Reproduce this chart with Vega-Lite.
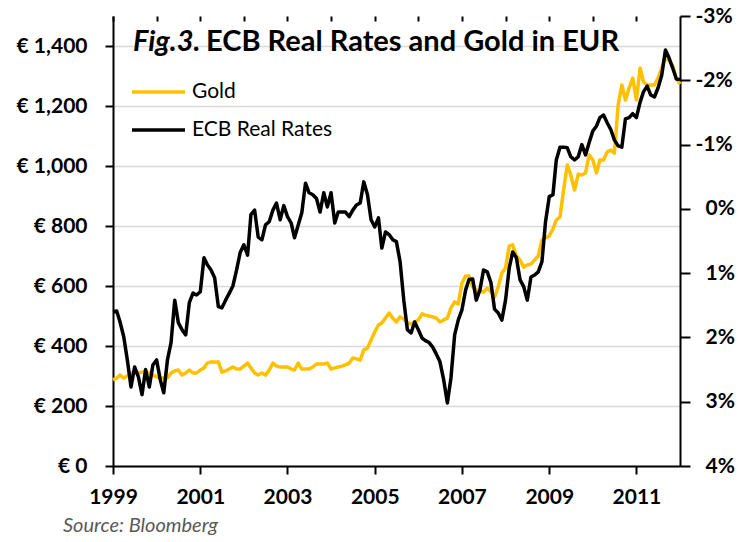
{
  "$schema": "https://vega.github.io/schema/vega-lite/v6.json",
  "width": 567,
  "height": 450,
  "autosize": "none",
  "padding": {"left": 113, "top": 16, "right": 64, "bottom": 76},
  "background": "white",
  "config": {"font": "Lato", "view": {"stroke": null}},
  "title": {"text": "Source: Bloomberg", "orient": "bottom", "anchor": "start", "frame": "group", "dx": -50, "offset": 9, "fontSize": 20, "fontStyle": "italic", "fontWeight": "normal", "color": "#595959", "font": "Lato"},
  "data": {"values": [
    {"date":"1999-01-01","gold":287,"ecb":1.60},{"date":"1999-02-01","gold":293,"ecb":1.59},{"date":"1999-03-01","gold":303,"ecb":1.76},{"date":"1999-04-01","gold":293,"ecb":1.99},{"date":"1999-05-01","gold":300,"ecb":2.35},{"date":"1999-06-01","gold":310,"ecb":2.77},{"date":"1999-07-01","gold":310,"ecb":2.46},{"date":"1999-08-01","gold":310,"ecb":2.61},{"date":"1999-09-01","gold":313,"ecb":2.89},{"date":"1999-10-01","gold":313,"ecb":2.50},{"date":"1999-11-01","gold":310,"ecb":2.77},{"date":"1999-12-01","gold":303,"ecb":2.43},
    {"date":"2000-01-01","gold":297,"ecb":2.35},{"date":"2000-02-01","gold":293,"ecb":2.66},{"date":"2000-03-01","gold":293,"ecb":2.86},{"date":"2000-04-01","gold":293,"ecb":2.35},{"date":"2000-05-01","gold":310,"ecb":2.08},{"date":"2000-06-01","gold":317,"ecb":1.42},{"date":"2000-07-01","gold":320,"ecb":1.77},{"date":"2000-08-01","gold":303,"ecb":1.88},{"date":"2000-09-01","gold":310,"ecb":1.96},{"date":"2000-10-01","gold":320,"ecb":1.46},{"date":"2000-11-01","gold":310,"ecb":1.31},{"date":"2000-12-01","gold":310,"ecb":1.34},
    {"date":"2001-01-01","gold":320,"ecb":1.29},{"date":"2001-02-01","gold":327,"ecb":0.76},{"date":"2001-03-01","gold":343,"ecb":0.87},{"date":"2001-04-01","gold":347,"ecb":0.95},{"date":"2001-05-01","gold":347,"ecb":1.07},{"date":"2001-06-01","gold":347,"ecb":1.52},{"date":"2001-07-01","gold":313,"ecb":1.54},{"date":"2001-08-01","gold":317,"ecb":1.42},{"date":"2001-09-01","gold":323,"ecb":1.31},{"date":"2001-10-01","gold":330,"ecb":1.20},{"date":"2001-11-01","gold":323,"ecb":0.95},{"date":"2001-12-01","gold":323,"ecb":0.68},
    {"date":"2002-01-01","gold":333,"ecb":0.56},{"date":"2002-02-01","gold":343,"ecb":0.72},{"date":"2002-03-01","gold":327,"ecb":0.09},{"date":"2002-04-01","gold":310,"ecb":0.02},{"date":"2002-05-01","gold":303,"ecb":0.44},{"date":"2002-06-01","gold":310,"ecb":0.48},{"date":"2002-07-01","gold":303,"ecb":0.25},{"date":"2002-08-01","gold":320,"ecb":0.20},{"date":"2002-09-01","gold":343,"ecb":0.02},{"date":"2002-10-01","gold":333,"ecb":-0.09},{"date":"2002-11-01","gold":330,"ecb":0.17},{"date":"2002-12-01","gold":330,"ecb":-0.05},
    {"date":"2003-01-01","gold":330,"ecb":0.12},{"date":"2003-02-01","gold":323,"ecb":0.22},{"date":"2003-03-01","gold":320,"ecb":0.45},{"date":"2003-04-01","gold":343,"ecb":0.25},{"date":"2003-05-01","gold":323,"ecb":0.06},{"date":"2003-06-01","gold":323,"ecb":-0.40},{"date":"2003-07-01","gold":323,"ecb":-0.25},{"date":"2003-08-01","gold":330,"ecb":-0.22},{"date":"2003-09-01","gold":340,"ecb":-0.16},{"date":"2003-10-01","gold":340,"ecb":0.05},{"date":"2003-11-01","gold":340,"ecb":-0.25},{"date":"2003-12-01","gold":343,"ecb":-0.03},
    {"date":"2004-01-01","gold":323,"ecb":-0.25},{"date":"2004-02-01","gold":327,"ecb":0.22},{"date":"2004-03-01","gold":330,"ecb":0.05},{"date":"2004-04-01","gold":333,"ecb":0.05},{"date":"2004-05-01","gold":337,"ecb":0.05},{"date":"2004-06-01","gold":343,"ecb":0.12},{"date":"2004-07-01","gold":360,"ecb":0.02},{"date":"2004-08-01","gold":357,"ecb":-0.06},{"date":"2004-09-01","gold":353,"ecb":-0.09},{"date":"2004-10-01","gold":387,"ecb":-0.42},{"date":"2004-11-01","gold":393,"ecb":-0.22},{"date":"2004-12-01","gold":420,"ecb":0.17},
    {"date":"2005-01-01","gold":447,"ecb":0.28},{"date":"2005-02-01","gold":470,"ecb":0.14},{"date":"2005-03-01","gold":477,"ecb":0.61},{"date":"2005-04-01","gold":493,"ecb":0.36},{"date":"2005-05-01","gold":510,"ecb":0.40},{"date":"2005-06-01","gold":493,"ecb":0.48},{"date":"2005-07-01","gold":480,"ecb":0.51},{"date":"2005-08-01","gold":497,"ecb":0.82},{"date":"2005-09-01","gold":490,"ecb":1.42},{"date":"2005-10-01","gold":477,"ecb":1.88},{"date":"2005-11-01","gold":473,"ecb":1.93},{"date":"2005-12-01","gold":480,"ecb":1.76},
    {"date":"2006-01-01","gold":487,"ecb":1.88},{"date":"2006-02-01","gold":507,"ecb":2.01},{"date":"2006-03-01","gold":503,"ecb":2.05},{"date":"2006-04-01","gold":500,"ecb":2.08},{"date":"2006-05-01","gold":497,"ecb":2.15},{"date":"2006-06-01","gold":493,"ecb":2.26},{"date":"2006-07-01","gold":480,"ecb":2.38},{"date":"2006-08-01","gold":487,"ecb":2.66},{"date":"2006-09-01","gold":493,"ecb":3.02},{"date":"2006-10-01","gold":527,"ecb":2.63},{"date":"2006-11-01","gold":547,"ecb":1.96},{"date":"2006-12-01","gold":540,"ecb":1.73},
    {"date":"2007-01-01","gold":610,"ecb":1.57},{"date":"2007-02-01","gold":633,"ecb":1.26},{"date":"2007-03-01","gold":633,"ecb":1.10},{"date":"2007-04-01","gold":597,"ecb":1.09},{"date":"2007-05-01","gold":587,"ecb":1.42},{"date":"2007-06-01","gold":583,"ecb":1.26},{"date":"2007-07-01","gold":580,"ecb":0.95},{"date":"2007-08-01","gold":593,"ecb":0.98},{"date":"2007-09-01","gold":580,"ecb":1.15},{"date":"2007-10-01","gold":563,"ecb":1.56},{"date":"2007-11-01","gold":597,"ecb":1.62},{"date":"2007-12-01","gold":643,"ecb":1.73},
    {"date":"2008-01-01","gold":660,"ecb":1.42},{"date":"2008-02-01","gold":733,"ecb":0.92},{"date":"2008-03-01","gold":737,"ecb":0.67},{"date":"2008-04-01","gold":700,"ecb":0.76},{"date":"2008-05-01","gold":687,"ecb":1.10},{"date":"2008-06-01","gold":663,"ecb":1.21},{"date":"2008-07-01","gold":670,"ecb":1.42},{"date":"2008-08-01","gold":673,"ecb":1.06},{"date":"2008-09-01","gold":687,"ecb":1.03},{"date":"2008-10-01","gold":700,"ecb":0.98},{"date":"2008-11-01","gold":753,"ecb":0.82},{"date":"2008-12-01","gold":760,"ecb":0.20},
    {"date":"2009-01-01","gold":767,"ecb":-0.19},{"date":"2009-02-01","gold":790,"ecb":-0.22},{"date":"2009-03-01","gold":820,"ecb":-0.76},{"date":"2009-04-01","gold":830,"ecb":-0.96},{"date":"2009-05-01","gold":920,"ecb":-0.96},{"date":"2009-06-01","gold":1003,"ecb":-0.95},{"date":"2009-07-01","gold":970,"ecb":-0.81},{"date":"2009-08-01","gold":920,"ecb":-0.76},{"date":"2009-09-01","gold":973,"ecb":-0.81},{"date":"2009-10-01","gold":970,"ecb":-1.00},{"date":"2009-11-01","gold":977,"ecb":-0.84},{"date":"2009-12-01","gold":1037,"ecb":-1.03},
    {"date":"2010-01-01","gold":1020,"ecb":-1.21},{"date":"2010-02-01","gold":977,"ecb":-1.29},{"date":"2010-03-01","gold":1020,"ecb":-1.42},{"date":"2010-04-01","gold":1020,"ecb":-1.46},{"date":"2010-05-01","gold":1047,"ecb":-1.34},{"date":"2010-06-01","gold":1053,"ecb":-1.23},{"date":"2010-07-01","gold":1043,"ecb":-1.07},{"date":"2010-08-01","gold":1203,"ecb":-0.98},{"date":"2010-09-01","gold":1270,"ecb":-0.96},{"date":"2010-10-01","gold":1220,"ecb":-1.40},{"date":"2010-11-01","gold":1260,"ecb":-1.42},{"date":"2010-12-01","gold":1293,"ecb":-1.48},
    {"date":"2011-01-01","gold":1220,"ecb":-1.42},{"date":"2011-02-01","gold":1327,"ecb":-1.66},{"date":"2011-03-01","gold":1280,"ecb":-1.82},{"date":"2011-04-01","gold":1270,"ecb":-1.91},{"date":"2011-05-01","gold":1270,"ecb":-1.77},{"date":"2011-06-01","gold":1270,"ecb":-1.74},{"date":"2011-07-01","gold":1293,"ecb":-1.88},{"date":"2011-08-01","gold":1327,"ecb":-2.08},{"date":"2011-09-01","gold":1363,"ecb":-2.47},{"date":"2011-10-01","gold":1353,"ecb":-2.35},{"date":"2011-11-01","gold":1333,"ecb":-2.19},{"date":"2011-12-01","gold":1293,"ecb":-2.02},
    {"date":"2012-01-01","gold":1273,"ecb":-2.01}
  ]},
  "layer": [
    {
      "layer": [
        {
          "mark": {"type": "line", "strokeWidth": 3.5, "strokeJoin": "round"},
          "encoding": {
            "x": {
              "field": "date", "type": "temporal",
              "scale": {"type": "utc", "domain": [{"year": 1999, "month": 1, "date": 1, "utc": true}, {"year": 2012, "month": 1, "date": 1, "utc": true}]},
              "axis": {
                "title": null, "grid": false,
                "values": [{"year": 1999, "utc": true}, {"year": 2001, "utc": true}, {"year": 2003, "utc": true}, {"year": 2005, "utc": true}, {"year": 2007, "utc": true}, {"year": 2009, "utc": true}, {"year": 2011, "utc": true}],
                "labelExpr": "utcFormat(datum.value, '%Y')",
                "labelFontSize": 21, "labelFontWeight": "bold", "labelColor": "black", "labelFont": "Lato",
                "labelPadding": 12, "labelFlush": false, "labelOverlap": false,
                "tickSize": 8, "tickColor": "black", "tickWidth": 2,
                "domainColor": "black", "domainWidth": 2
              }
            },
            "y": {
              "field": "gold", "type": "quantitative",
              "scale": {"domain": [0, 1500], "nice": false, "zero": true},
              "axis": {
                "title": null,
                "values": [0, 200, 400, 600, 800, 1000, 1200, 1400],
                "labelExpr": "'€ ' + format(datum.value, ',')",
                "labelFontSize": 21, "labelFontWeight": "bold", "labelColor": "black", "labelFont": "Lato",
                "labelPadding": 18,
                "tickSize": 8, "tickColor": "black", "tickWidth": 2,
                "domainColor": "black", "domainWidth": 2,
                "grid": true, "gridColor": "#d9d9d9", "gridWidth": 1.5
              }
            },
            "color": {
              "datum": "Gold", "type": "nominal",
              "scale": {"domain": ["Gold", "ECB Real Rates"], "range": ["#FFC000", "#000000"]},
              "legend": {
                "orient": "none", "legendX": 17, "legendY": 65, "direction": "vertical",
                "title": null, "padding": 0,
                "symbolType": "stroke", "symbolSize": 2809, "symbolStrokeWidth": 3.5,
                "labelFontSize": 21, "labelFont": "Lato", "labelColor": "black", "labelOffset": 5,
                "rowPadding": 16, "clipHeight": 22
              }
            }
          }
        },
        {
          "data": {"values": [{"label": "Fig.3.", "date": "1999-06-17", "v": 1382}]},
          "mark": {"type": "text", "align": "left", "baseline": "alphabetic", "fontSize": 29, "fontWeight": "bold", "fontStyle": "italic", "color": "black", "font": "Lato"},
          "encoding": {
            "x": {"field": "date", "type": "temporal"},
            "y": {"field": "v", "type": "quantitative"},
            "text": {"field": "label"}
          }
        },
        {
          "data": {"values": [{"label": "ECB Real Rates and Gold in EUR", "date": "2001-02-18", "v": 1382}]},
          "mark": {"type": "text", "align": "left", "baseline": "alphabetic", "fontSize": 29, "fontWeight": "bold", "color": "black", "font": "Lato"},
          "encoding": {
            "x": {"field": "date", "type": "temporal"},
            "y": {"field": "v", "type": "quantitative"},
            "text": {"field": "label"}
          }
        }
      ]
    },
    {
      "mark": {"type": "line", "strokeWidth": 3.5, "strokeJoin": "round"},
      "encoding": {
        "x": {
          "field": "date", "type": "temporal",
          "axis": {
            "title": null, "grid": false, "labels": false, "domain": false,
            "values": [{"year": 1999, "utc": true}, {"year": 2000, "utc": true}, {"year": 2001, "utc": true}, {"year": 2002, "utc": true}, {"year": 2003, "utc": true}, {"year": 2004, "utc": true}, {"year": 2005, "utc": true}, {"year": 2006, "utc": true}, {"year": 2007, "utc": true}, {"year": 2008, "utc": true}, {"year": 2009, "utc": true}, {"year": 2010, "utc": true}, {"year": 2011, "utc": true}],
            "tickSize": -5, "tickColor": "black", "tickWidth": 2
          }
        },
        "y": {
          "field": "ecb", "type": "quantitative",
          "scale": {"domain": [-3, 4], "reverse": true, "nice": false, "zero": false},
          "axis": {
            "orient": "right", "title": null,
            "values": [-3, -2, -1, 0, 1, 2, 3, 4],
            "labelExpr": "datum.value + '%'",
            "labelFontSize": 21, "labelFontWeight": "bold", "labelColor": "black", "labelFont": "Lato",
            "labelAlign": "left",
            "labelPadding": {"condition": {"test": "datum.value < 0", "value": 5}, "value": 15},
            "tickSize": 10, "tickColor": "black", "tickWidth": 2,
            "domainColor": "black", "domainWidth": 2,
            "grid": false
          }
        },
        "color": {"datum": "ECB Real Rates", "type": "nominal"}
      }
    }
  ],
  "resolve": {"scale": {"y": "independent"}, "axis": {"x": "independent"}}
}
